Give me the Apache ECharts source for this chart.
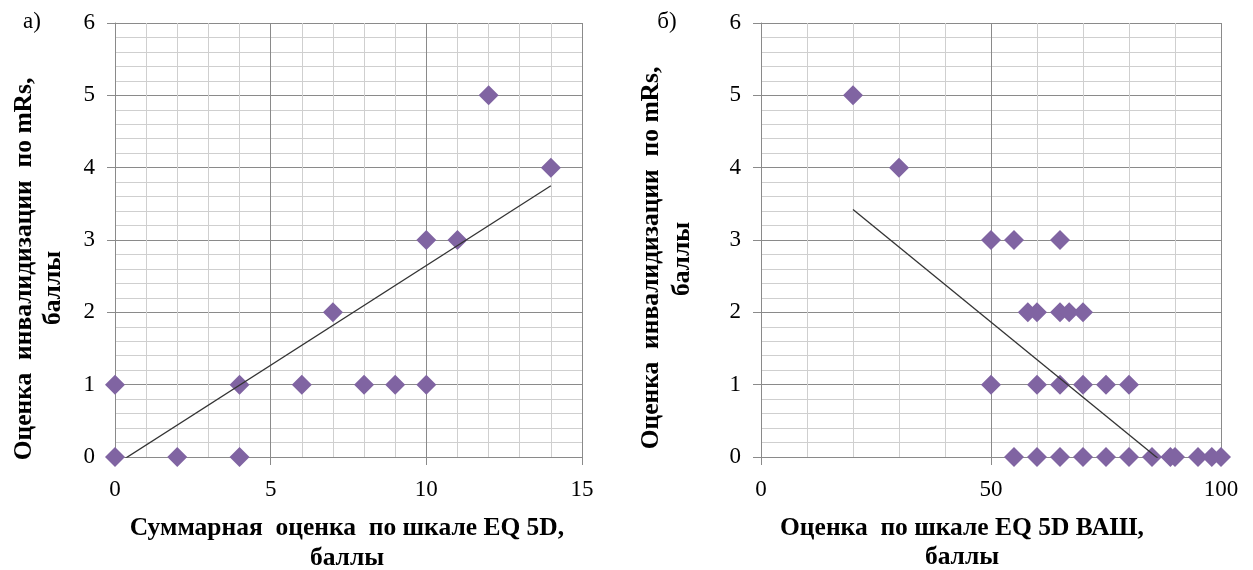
<!DOCTYPE html>
<html>
<head>
<meta charset="utf-8">
<script src="https://cdn.jsdelivr.net/npm/echarts@6/dist/echarts.min.js"></script>
<style>
  html, body { margin: 0; padding: 0; background: #ffffff; }
  #chart { width: 1253px; height: 570px; }
</style>
</head>
<body>
<div id="chart"></div>
<script>
// Panel а): summary EQ-5D score vs. mRS disability score
const eqSumX = [0, 0, 2, 4, 4, 6, 7, 8, 9, 10, 10, 11, 12, 14];
const mrsA   = [0, 1, 0, 0, 1, 1, 2, 1, 1, 1, 3, 3, 5, 4];
// linear trend line end points (x, y)
const trendAX = [0, 14];
const trendAY = [-0.11, 3.75];

// Panel б): EQ-5D VAS score vs. mRS disability score
const vasX = [20, 30, 50, 55, 65, 58, 60, 65, 67, 70, 50, 60, 65, 70, 75, 80,
              55, 60, 65, 70, 75, 80, 85, 89, 90, 95, 98, 100];
const mrsB = [5, 4, 3, 3, 3, 2, 2, 2, 2, 2, 1, 1, 1, 1, 1, 1,
              0, 0, 0, 0, 0, 0, 0, 0, 0, 0, 0, 0];
const trendBX = [20, 100];
const trendBY = [3.42, -0.73];

// axis tick values
const xTicksA = [0, 5, 10, 15];
const xTicksB = [0, 50, 100];
const yTicks  = [0, 1, 2, 3, 4, 5, 6];

// axis titles and panel letters
const yTitle1 = 'Оценка  инвалидизации  по mRs,';
const yTitle2 = 'баллы';
const xTitleA = 'Суммарная  оценка  по шкале EQ 5D,';
const xTitleB = 'Оценка  по шкале EQ 5D ВАШ,';
const xTitle2 = 'баллы';
const panelA = 'а)';
const panelB = 'б)';

const zip = (xs, ys) => xs.map((x, i) => [x, ys[i]]);

const SERIF = '"Liberation Serif", "Times New Roman", serif';
const MAJOR = '#8a8a8a';
const MINOR = '#cfcfcf';
const PURPLE = '#8064A2';
const TITLE_SIZE = 25.5;

function valueAxis(gridIndex, ticks, minorSplit, labelMargin) {
  return {
    type: 'value',
    gridIndex: gridIndex,
    min: ticks[0],
    max: ticks[ticks.length - 1],
    interval: ticks[1] - ticks[0],
    axisLine: { show: true, onZero: false, lineStyle: { color: MAJOR, width: 1 } },
    axisTick: { show: true, inside: false, length: 8, lineStyle: { color: MAJOR, width: 1 } },
    axisLabel: { fontFamily: SERIF, fontSize: 23, color: '#000', margin: labelMargin },
    splitLine: { show: true, lineStyle: { color: MAJOR, width: 1 } },
    minorTick: { show: false, splitNumber: minorSplit },
    minorSplitLine: { show: true, lineStyle: { color: MINOR, width: 1 } }
  };
}

function scatter(idx, xs, ys) {
  return {
    type: 'scatter',
    xAxisIndex: idx, yAxisIndex: idx,
    symbol: 'diamond',
    symbolSize: 20,
    itemStyle: { color: PURPLE, opacity: 1 },
    data: zip(xs, ys),
    z: 3,
    silent: true
  };
}

function trend(idx, xs, ys) {
  return {
    type: 'line',
    xAxisIndex: idx, yAxisIndex: idx,
    data: zip(xs, ys),
    showSymbol: false,
    symbol: 'none',
    clip: true,
    lineStyle: { color: '#333333', width: 1.3 },
    z: 4,
    silent: true,
    animation: false
  };
}

function txt(text, x, y, opts) {
  opts = opts || {};
  return {
    type: 'text',
    x: x, y: y,
    rotation: opts.rot || 0,
    silent: true,
    style: {
      text: text,
      font: (opts.bold ? 'bold ' : '') + (opts.size || 23) + 'px ' + SERIF,
      fill: '#000',
      align: 'center',
      verticalAlign: 'middle'
    }
  };
}

const chart = echarts.init(document.getElementById('chart'), null, { renderer: 'canvas' });

chart.setOption({
  animation: false,
  backgroundColor: '#ffffff',
  grid: [
    { left: 115, top: 23, width: 467, height: 434, show: false },
    { left: 761, top: 23, width: 460, height: 434, show: false }
  ],
  xAxis: [
    valueAxis(0, xTicksA, 5, 21),
    valueAxis(1, xTicksB, 5, 21)
  ],
  yAxis: [
    valueAxis(0, yTicks, 5, 20),
    valueAxis(1, yTicks, 5, 20)
  ],
  series: [
    scatter(0, eqSumX, mrsA),
    trend(0, trendAX, trendAY),
    scatter(1, vasX, mrsB),
    trend(1, trendBX, trendBY)
  ],
  graphic: [
    txt(panelA, 32, 22, { size: 23 }),
    txt(panelB, 667, 22, { size: 23 }),
    txt(yTitle1, 24, 269, { bold: true, size: TITLE_SIZE, rot: Math.PI / 2 }),
    txt(yTitle2, 53, 288, { bold: true, size: TITLE_SIZE, rot: Math.PI / 2 }),
    txt(yTitle1, 651, 258, { bold: true, size: TITLE_SIZE, rot: Math.PI / 2 }),
    txt(yTitle2, 682, 259, { bold: true, size: TITLE_SIZE, rot: Math.PI / 2 }),
    txt(xTitleA, 347, 528, { bold: true, size: TITLE_SIZE }),
    txt(xTitle2, 347, 558, { bold: true, size: TITLE_SIZE }),
    txt(xTitleB, 962, 528, { bold: true, size: TITLE_SIZE }),
    txt(xTitle2, 962, 557, { bold: true, size: TITLE_SIZE })
  ]
});
</script>
</body>
</html>
